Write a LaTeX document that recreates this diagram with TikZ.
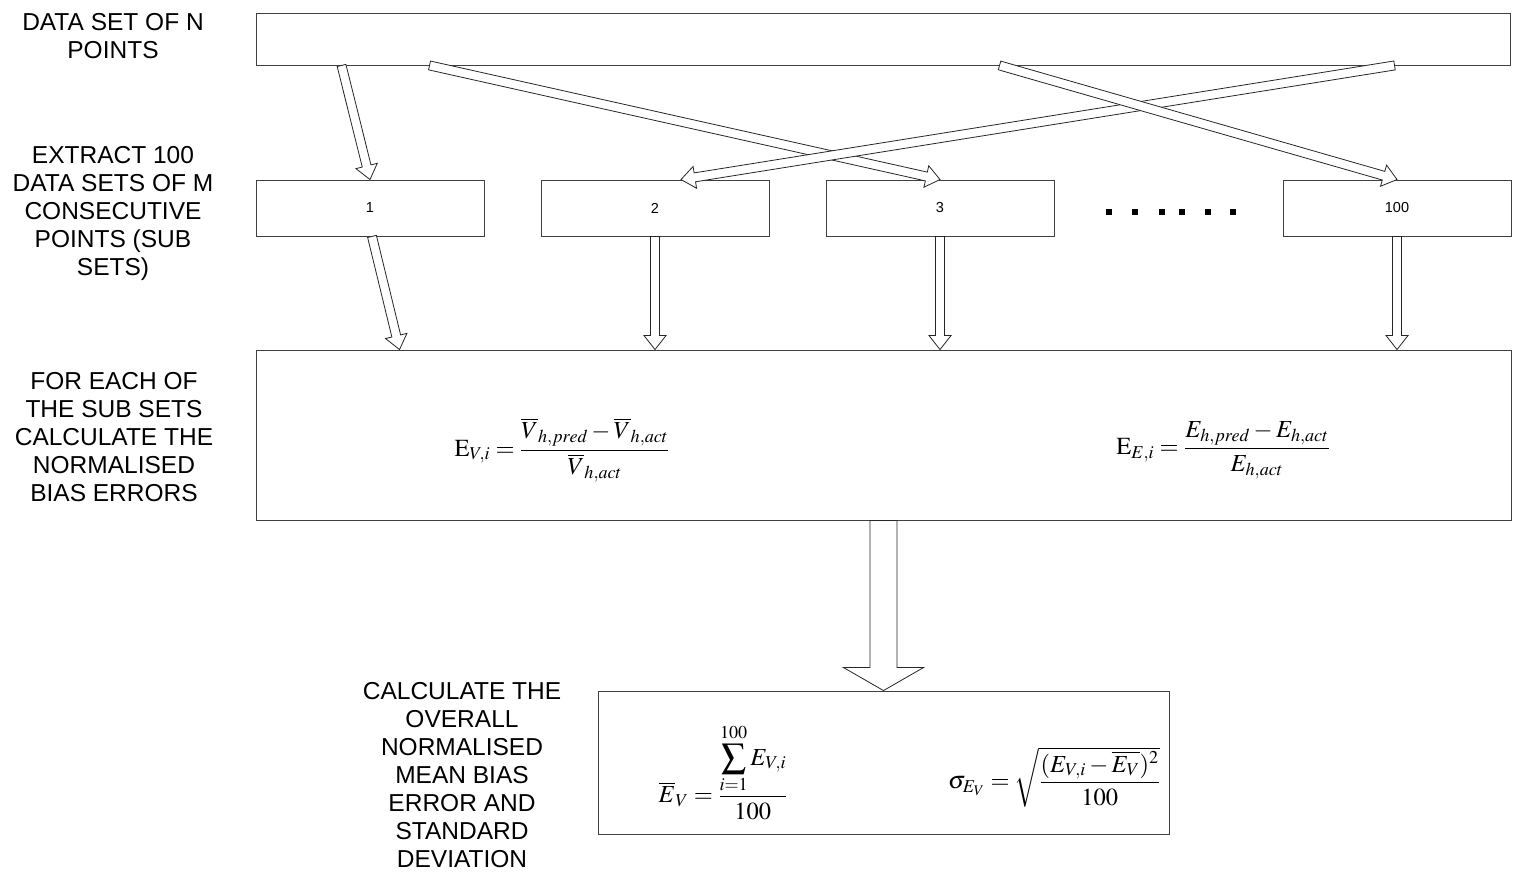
\documentclass[tikz,border=0pt]{standalone}
\usepackage{amsmath}
\usepackage{mathptmx}
\usepackage[no-math]{fontspec}
\newfontfamily\labelfont{Liberation Sans}
\usetikzlibrary{calc}

% hollow block arrow: from, to, shaft half-width, head half-width, head length
\newcommand\blockarrow[5]{%
  \coordinate (ba-h) at ($(#2)!#5!(#1)$);
  \draw[arrowbody] ($(#1)!#3!90:(#2)$) -- ($(ba-h)!#3!-90:(#1)$) -- ($(ba-h)!#4!-90:(#1)$)
    -- (#2) -- ($(ba-h)!#4!90:(#1)$) -- ($(ba-h)!#3!90:(#1)$) -- ($(#1)!#3!-90:(#2)$) -- cycle;}

\begin{document}
\begin{tikzpicture}[
  x=1pt, y=-1pt,
  box/.style={rectangle, draw=black!75, line width=0.9pt, inner sep=0pt},
  stage/.style={align=center, font=\labelfont\fontsize{24.5}{28}\selectfont},
  num/.style={font=\labelfont\fontsize{14.5}{17}\selectfont},
  formula/.style={font=\fontsize{24.5}{28}\selectfont},
  arrowbody/.style={draw=black!85, line width=0.8pt, fill=white, line join=miter}
]
  \useasboundingbox (0,0) rectangle (1513,875);

  % Boxes
  \node[box, minimum width=1254pt, minimum height=52pt] (dataset) at (883,39) {};
  \node[box, minimum width=228pt, minimum height=56pt] (sub1) at (370,208) {};
  \node[box, minimum width=228pt, minimum height=56pt] (sub2) at (655,208) {};
  \node[box, minimum width=228pt, minimum height=56pt] (sub3) at (940,208) {};
  \node[box, minimum width=228pt, minimum height=56pt] (sub100) at (1397,208) {};
  \node[box, minimum width=1255pt, minimum height=170pt] (errors) at (883.5,435) {};
  \node[box, minimum width=571pt, minimum height=143pt] (overall) at (883.5,762.5) {};

  % Box texts
  \node[num] (n1) at (sub1) {1};
  \node[num] (n2) at (sub2) {2};
  \node[num] (n3) at (sub3) {3};
  \node[num] (n100) at (sub100) {100};
  \foreach \dx in {1109,1135,1162,1182,1208,1233}
    \fill (\dx-3,209) rectangle (\dx+3,215);

  % Stage labels
  \node[stage] (lblData) at (113,36) {DATA SET OF N\\POINTS};
  \node[stage] (lblExtract) at (113,213) {EXTRACT 100\\DATA SETS OF M\\CONSECUTIVE\\POINTS (SUB\\SETS)};
  \node[stage] (lblEach) at (114,437) {FOR EACH OF\\THE SUB SETS\\CALCULATE THE\\NORMALISED\\BIAS ERRORS};
  \node[stage] (lblOverall) at (462,775) {CALCULATE THE\\OVERALL\\NORMALISED\\MEAN BIAS\\ERROR AND\\STANDARD\\DEVIATION};

  % Formulas
  \node[formula] (fV) at (562,450)
    {$\mathrm{E}_{V,i}=\dfrac{\overline{V}_{h,pred}-\overline{V}_{h,act}}{\overline{V}_{h,act}}$};
  \node[formula] (fE) at (1223,450)
    {$\mathrm{E}_{E,i}=\dfrac{E_{h,pred}-E_{h,act}}{E_{h,act}}$};
  \node[formula] (fMean) at (723,772)
    {$\overline{E}_V=\dfrac{\displaystyle\sum_{i=1}^{100}E_{V,i}}{100}$};
  \node[formula] (fSigma) at (1054,777)
    {$\sigma_{E_V}=\sqrt{\dfrac{(E_{V,i}-\overline{E_V})^2}{100}}$};

  % Arrow ends
  \coordinate (t1) at ($(dataset.south west)+(86,0)$);
  \coordinate (t2) at ($(dataset.south west)+(174,0)$);
  \coordinate (t3) at ($(dataset.south west)+(1139,0)$);
  \coordinate (t4) at ($(dataset.south west)+(744,0)$);
  \coordinate (h2) at ($(sub2.north)+(26,0)$);
  \coordinate (s1) at ($(sub1.south)+(2,0)$);
  \coordinate (e1) at ($(errors.north west)+(144,0)$);
  \coordinate (e2) at (sub2.south |- errors.north);
  \coordinate (e3) at (sub3.south |- errors.north);
  \coordinate (e100) at (sub100.south |- errors.north);

  % Extract arrows
  \blockarrow{t1}{sub1.north}{4.5pt}{11pt}{14pt}
  \blockarrow{t2}{sub3.north}{4.5pt}{11pt}{14pt}
  \blockarrow{t3}{h2}{4.5pt}{11pt}{14pt}
  \blockarrow{t4}{sub100.north}{4.5pt}{11pt}{14pt}

  % Sub set arrows
  \blockarrow{s1}{e1}{4.5pt}{11pt}{14pt}
  \blockarrow{sub2.south}{e2}{4.5pt}{11pt}{14pt}
  \blockarrow{sub3.south}{e3}{4.5pt}{11pt}{14pt}
  \blockarrow{sub100.south}{e100}{4.5pt}{11pt}{14pt}

  % Overall arrow
  \blockarrow{errors.south}{overall.north}{13.5pt}{40pt}{23pt}
\end{tikzpicture}
\end{document}
